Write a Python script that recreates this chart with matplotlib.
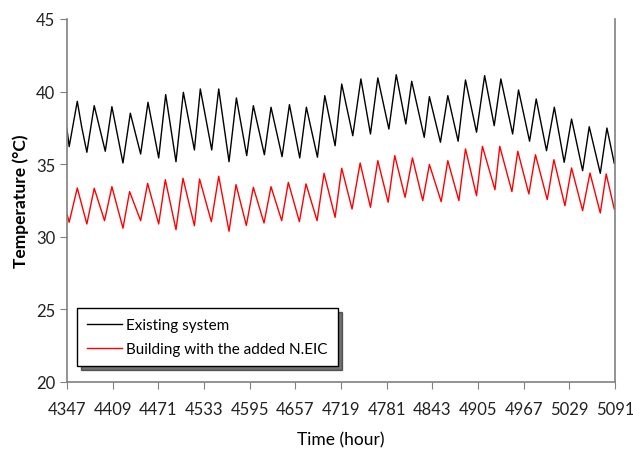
import matplotlib
matplotlib.use("Agg")
import matplotlib.pyplot as plt
import numpy as np

# daily peaks / troughs (hour, temperature)
hours_existing = [4347, 4350, 4361, 4367, 4374, 4384, 4391, 4399, 4408, 4423, 4433, 4447,
                  4457, 4471.5, 4481, 4495, 4505, 4520, 4528, 4543.5, 4553, 4567, 4577,
                  4591, 4600, 4615, 4624, 4639, 4649, 4663, 4672, 4687, 4697, 4711, 4720,
                  4735, 4746, 4759, 4769, 4784, 4794, 4807, 4815, 4832, 4839, 4854, 4864,
                  4878, 4888, 4903, 4914, 4927, 4936, 4952, 4960, 4975, 4984, 4998, 5008.6,
                  5022, 5032, 5047, 5056, 5071, 5080, 5090]
temp_existing = [37.42, 36.21, 39.33, 37.56, 35.82, 39.03, 37.56, 35.89, 38.96, 35.08, 38.51,
                 35.70, 39.26, 35.43, 39.79, 35.17, 39.95, 35.98, 40.18, 35.98, 40.18, 35.17,
                 39.56, 35.59, 39.03, 35.65, 38.92, 35.52, 39.10, 35.43, 38.92, 35.48, 39.72,
                 36.27, 40.52, 36.96, 40.87, 37.08, 40.94, 37.42, 41.16, 37.77, 40.71, 36.85,
                 39.65, 36.51, 39.72, 36.58, 40.80, 37.20, 41.10, 37.65, 40.87, 37.08, 40.11,
                 36.58, 39.49, 35.93, 38.92, 35.13, 38.11, 34.55, 37.58, 34.37, 37.49, 35.06]

hours_neic = [4347, 4350, 4361, 4374, 4384, 4398, 4408, 4423, 4432, 4447, 4456.5, 4471.5,
              4480.5, 4495, 4504.5, 4520, 4527, 4543, 4553, 4567, 4576.5, 4590.5, 4600,
              4614.5, 4624, 4638.5, 4647.5, 4662.5, 4671.5, 4686.5, 4696, 4711, 4720, 4734,
              4745, 4759, 4769, 4783, 4792, 4806, 4816, 4830, 4839, 4855, 4864, 4879, 4888,
              4903, 4911, 4928, 4934.5, 4951, 4959, 4974, 4983, 4999, 5008, 5023, 5032,
              5047, 5057, 5071, 5079, 5090]
temp_neic = [31.57, 31.00, 33.36, 30.88, 33.34, 31.11, 33.45, 30.59, 33.11, 31.11, 33.68,
             30.88, 33.93, 30.49, 34.03, 30.76, 33.98, 31.04, 34.17, 30.38, 33.59, 30.78,
             33.41, 30.95, 33.45, 31.11, 33.75, 31.04, 33.64, 31.11, 34.37, 31.34, 34.72,
             31.91, 35.08, 32.03, 35.24, 32.38, 35.59, 32.72, 35.43, 32.49, 34.98, 32.42,
             35.24, 32.49, 36.05, 32.83, 36.23, 33.24, 36.23, 33.11, 35.89, 32.95, 35.65,
             32.56, 35.31, 32.14, 34.74, 31.80, 34.39, 31.64, 34.33, 31.91]

x_ticks = list(range(4347, 5092, 62))
y_ticks = [20, 25, 30, 35, 40, 45]

plt.rcParams['font.family'] = ['Lato', 'DejaVu Sans']

fig = plt.figure(figsize=(6.33, 4.52), dpi=100)
ax = fig.add_axes([0.1058, 0.1527, 0.8658, 0.8031])

ax.plot(hours_existing, temp_existing, color='black', lw=1.0, label='Existing system')
ax.plot(hours_neic, temp_neic, color='red', lw=1.0, label='Building with the added N.EIC')

ax.set_xlim(4347, 5091)
ax.set_ylim(20, 45)
ax.set_xticks(x_ticks)
ax.set_yticks(y_ticks)
ax.tick_params(axis='both', labelsize=12, length=5, color='#808080',
               labelcolor='#222222', direction='out')
ax.tick_params(axis='x', pad=9)

for side in ['left', 'bottom', 'right']:
    ax.spines[side].set_color('#808080')
    ax.spines[side].set_linewidth(1.2)
ax.spines['top'].set_visible(False)

ax.set_xlabel('Time (hour)', fontsize=12.5, labelpad=10)
ax.set_ylabel('Temperature (°C)', fontsize=12.5, fontweight='bold', labelpad=5)

leg = ax.legend(loc='lower left', bbox_to_anchor=(0.018, 0.044), borderaxespad=0,
                fontsize=11, frameon=True, fancybox=False, handlelength=2.3,
                handletextpad=0.3, borderpad=0.65, labelspacing=0.65,
                shadow={'color': 'black', 'alpha': 0.55, 'ox': 3, 'oy': -3})
leg.get_frame().set_edgecolor('black')
leg.get_frame().set_linewidth(1.0)

fig.savefig('out.png', dpi=100)
